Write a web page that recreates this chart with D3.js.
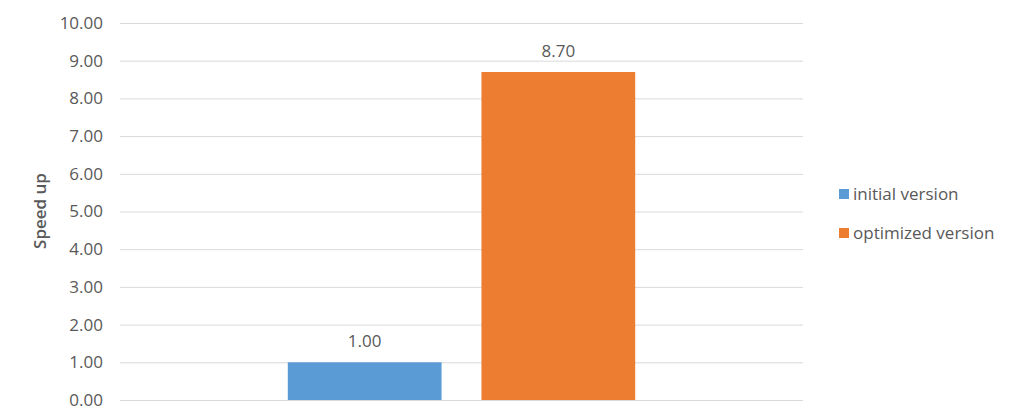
<!DOCTYPE html>
<html>
<head>
<meta charset="utf-8">
<script src="https://cdn.jsdelivr.net/npm/d3@7"></script>
<style>
  body { margin: 0; background: #fff; }
  text { font-family: "Open Sans", "DejaVu Sans", sans-serif; fill: #595959; }
</style>
</head>
<body>
<div id="chart"></div>
<script>
// chart data
const categories = ["run"];
const seriesNames = ["initial version", "optimized version"];
const seriesValues = [1.00, 8.70];
const seriesColors = ["#5b9bd5", "#ed7d31"];
const yTicks = [0, 1, 2, 3, 4, 5, 6, 7, 8, 9, 10];

const width = 1018;
const height = 417;
const margin = { top: 23, right: 215, bottom: 17, left: 120 };
const innerW = width - margin.left - margin.right;
const innerH = height - margin.top - margin.bottom;

const svg = d3.select("#chart")
    .append("svg")
    .attr("width", width)
    .attr("height", height);

const g = svg.append("g")
    .attr("transform", "translate(" + margin.left + "," + margin.top + ")");

// scales
const x0 = d3.scaleBand()
    .domain(categories)
    .range([0, innerW])
    .paddingInner(0)
    .paddingOuter(0.483);

const x1 = d3.scaleBand()
    .domain(seriesNames)
    .range([0, x0.bandwidth()])
    .paddingInner(0.206);

const y = d3.scaleLinear()
    .domain([0, 10])
    .range([innerH, 0]);

// gridlines
g.append("g")
    .selectAll("line")
    .data(yTicks)
    .enter()
    .append("line")
    .attr("x1", 0)
    .attr("x2", innerW)
    .attr("y1", d => y(d) + 0.5)
    .attr("y2", d => y(d) + 0.5)
    .attr("stroke", "#d9d9d9")
    .attr("stroke-width", 1);

// y axis labels
const yAxis = d3.axisLeft(y)
    .tickValues(yTicks)
    .tickFormat(d3.format(".2f"))
    .tickSize(0)
    .tickPadding(17);
const yG = g.append("g").call(yAxis);
yG.select(".domain").remove();
yG.selectAll("text")
    .style("font-size", "17px")
    .attr("fill", "#595959");

// bars
const bars = seriesNames.map((s, i) => ({ series: s, value: seriesValues[i], color: seriesColors[i] }));
const group = g.append("g")
    .attr("transform", "translate(" + x0(categories[0]) + ",0)");

group.selectAll("rect")
    .data(bars)
    .enter()
    .append("rect")
    .attr("x", d => x1(d.series))
    .attr("y", d => y(d.value))
    .attr("width", x1.bandwidth())
    .attr("height", d => y(0) - y(d.value))
    .attr("fill", d => d.color);

group.selectAll(".label")
    .data(bars)
    .enter()
    .append("text")
    .attr("class", "label")
    .attr("x", d => x1(d.series) + x1.bandwidth() / 2)
    .attr("y", d => y(d.value) - 21)
    .attr("dy", "0.35em")
    .attr("text-anchor", "middle")
    .style("font-size", "17px")
    .text(d => d3.format(".2f")(d.value));

// y axis title
svg.append("text")
    .attr("transform", "translate(40," + 211 + ") rotate(-90)")
    .attr("text-anchor", "middle")
    .attr("dy", "0.35em")
    .style("font-size", "17px")
    .style("font-weight", "600")
    .text("Speed up");

// legend
const legend = svg.append("g")
    .attr("transform", "translate(839,189)");

const legendItems = legend.selectAll("g")
    .data(bars)
    .enter()
    .append("g")
    .attr("transform", (d, i) => "translate(0," + (i * 39) + ")");

legendItems.append("rect")
    .attr("width", 10)
    .attr("height", 10)
    .attr("fill", d => d.color);

legendItems.append("text")
    .attr("x", 14)
    .attr("y", 5)
    .attr("dy", "0.35em")
    .style("font-size", "17px")
    .text(d => d.series);
</script>
</body>
</html>
